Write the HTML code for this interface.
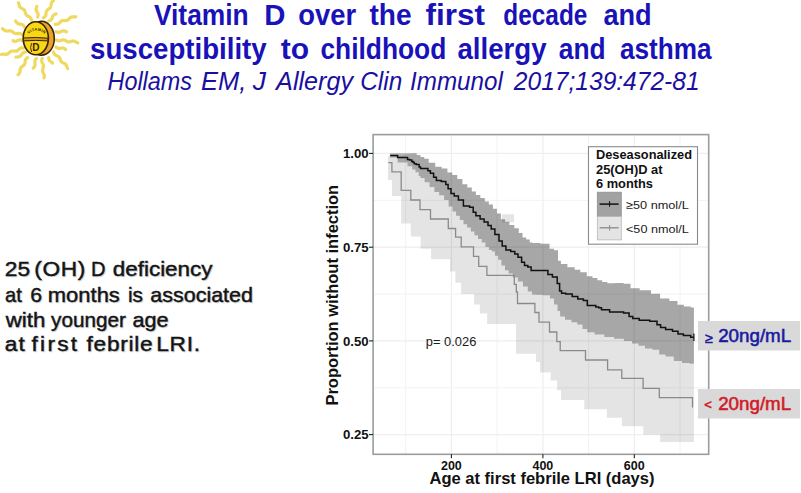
<!DOCTYPE html>
<html><head><meta charset="utf-8">
<style>
html,body{margin:0;padding:0;background:#fff;}
body{width:801px;height:493px;overflow:hidden;position:relative;}
svg{position:absolute;left:0;top:0;}
text{font-family:"Liberation Sans",sans-serif;}
</style></head><body>
<svg width="801" height="493" viewBox="0 0 801 493">
<!-- SUN -->
<g id="sun">
<g fill="none" stroke="#efd95e" stroke-width="3.2" stroke-linecap="round" stroke-linejoin="round">
<polyline points="31.6,20.3 31.2,18.9 30.5,17.7 29.3,16.8 28.0,16.2 26.7,15.4 25.9,14.3 25.4,12.9 25.0,11.5 24.4,10.2 23.4,9.3 22.1,8.6 20.8,7.9 19.8,6.9 19.3,5.6 18.9,4.1 18.4,2.8"/>
<polyline points="37.6,17.0 37.8,16.3 38.0,15.6 38.1,15.0 38.1,14.3 37.9,13.7 37.6,13.0 37.3,12.4 36.9,11.8 36.6,11.1 36.3,10.5 36.1,9.9 36.1,9.2 36.1,8.5 36.3,7.8 36.5,7.2 36.8,6.5"/>
<polyline points="43.5,17.8 44.6,17.0 45.4,16.1 45.8,14.9 46.0,13.6 46.2,12.2 46.6,11.0 47.4,10.1 48.4,9.3 49.5,8.5 50.4,7.6 50.9,6.4 51.1,5.1 51.2,3.8 51.6,2.5 52.3,1.6 53.4,0.7"/>
<polyline points="48.7,21.1 49.4,20.9 50.0,20.6 50.6,20.2 51.1,19.8 51.5,19.3 51.8,18.7 52.1,18.1 52.3,17.4 52.5,16.7 52.8,16.1 53.2,15.6 53.7,15.1 54.2,14.7 54.8,14.4 55.4,14.1 56.1,13.9"/>
<polyline points="55.2,24.3 56.7,24.3 58.0,24.0 59.2,23.2 60.2,22.1 61.3,21.1 62.6,20.6 64.0,20.6 65.5,20.6 66.9,20.4 68.1,19.8 69.2,18.7 70.2,17.7 71.4,17.0 72.8,16.8 74.3,16.9 75.8,16.8"/>
<polyline points="56.0,31.6 56.7,31.9 57.3,32.2 58.0,32.3 58.6,32.3 59.3,32.3 59.9,32.1 60.6,31.8 61.2,31.5 61.9,31.2 62.6,31.0 63.2,30.9 63.9,30.9 64.5,31.0 65.2,31.2 65.8,31.5 66.5,31.8"/>
<polyline points="56.0,39.8 57.3,40.5 58.7,40.8 60.1,40.6 61.5,40.2 62.9,39.9 64.3,40.0 65.6,40.7 66.9,41.4 68.2,41.9 69.6,41.8 71.1,41.4 72.5,41.0 73.9,41.0 75.2,41.6 76.5,42.3 77.8,42.9"/>
<polyline points="56.0,47.0 56.5,47.4 57.1,47.8 57.6,48.1 58.2,48.4 58.9,48.5 59.5,48.4 60.2,48.4 60.9,48.2 61.5,48.1 62.2,48.0 62.8,48.0 63.5,48.1 64.1,48.4 64.6,48.7 65.2,49.1 65.7,49.5"/>
<polyline points="53.5,52.0 54.0,53.4 54.8,54.5 56.0,55.3 57.3,55.9 58.6,56.6 59.5,57.6 60.1,59.0 60.5,60.4 61.2,61.6 62.3,62.5 63.6,63.1 65.0,63.8 66.0,64.7 66.6,65.9 67.1,67.3 67.7,68.7"/>
<polyline points="48.7,57.6 48.7,58.1 48.8,58.5 48.9,58.9 49.0,59.3 49.1,59.7 49.3,60.1 49.5,60.5 49.8,60.8 50.1,61.1 50.4,61.4 50.8,61.6 51.2,61.9 51.5,62.1 51.9,62.4 52.2,62.7 52.5,63.0"/>
<polyline points="42.2,58.4 41.8,59.7 41.7,60.9 41.9,62.1 42.5,63.3 43.2,64.5 43.5,65.7 43.5,66.9 43.1,68.1 42.7,69.4 42.5,70.6 42.7,71.9 43.2,73.0 43.9,74.2 44.3,75.4 44.3,76.6 44.0,77.9"/>
<polyline points="36.5,58.4 36.0,58.9 35.6,59.5 35.2,60.0 35.0,60.6 34.9,61.3 34.8,61.9 34.9,62.6 35.0,63.3 35.0,64.0 35.1,64.7 35.0,65.4 34.8,66.0 34.5,66.6 34.1,67.1 33.6,67.6 33.2,68.2"/>
<polyline points="27.6,57.6 26.5,58.4 25.7,59.4 25.3,60.5 25.1,61.8 25.0,63.2 24.6,64.3 23.8,65.3 22.8,66.1 21.7,66.9 20.8,67.9 20.3,69.0 20.1,70.3 20.0,71.6 19.7,72.8 19.0,73.9 18.0,74.7"/>
<polyline points="26.0,52.0 25.2,52.1 24.5,52.2 23.8,52.4 23.2,52.8 22.6,53.2 22.2,53.8 21.7,54.4 21.2,55.1 20.8,55.6 20.2,56.1 19.6,56.5 19.0,56.7 18.2,56.9 17.5,57.0 16.7,57.0 15.9,57.1"/>
<polyline points="23.5,47.9 21.9,47.8 20.5,48.1 19.3,49.0 18.1,50.1 16.9,50.9 15.5,51.2 13.9,51.0 12.4,51.0 11.0,51.3 9.7,52.2 8.6,53.3 7.3,54.1 5.9,54.3 4.3,54.2 2.8,54.1 1.4,54.5"/>
<polyline points="22.7,40.6 22.1,40.3 21.5,40.1 20.9,39.9 20.3,39.9 19.7,39.9 19.1,40.0 18.5,40.3 17.9,40.5 17.2,40.8 16.6,41.1 16.0,41.3 15.4,41.3 14.8,41.3 14.2,41.2 13.6,41.0 13.0,40.7"/>
<polyline points="22.7,34.9 21.6,34.0 20.4,33.5 19.0,33.4 17.6,33.6 16.2,33.7 14.9,33.5 13.7,32.7 12.6,31.8 11.5,31.0 10.2,30.7 8.8,30.8 7.4,31.0 6.0,31.0 4.8,30.5 3.6,29.7 2.5,28.7"/>
<polyline points="24.3,26.8 23.9,26.2 23.5,25.6 23.0,25.1 22.5,24.7 21.9,24.5 21.2,24.3 20.5,24.2 19.8,24.1 19.1,23.9 18.4,23.8 17.8,23.5 17.2,23.1 16.8,22.7 16.3,22.1 15.9,21.5 15.5,20.9"/>
</g>
<path d="M41,21.3 C48.5,21 54.3,29 54.3,38.5 C54.3,48 48.5,55.6 40.5,55.2 C34,54.8 30,47 30,38 C30,29 34,21.6 41,21.3 Z" fill="#eaa22e" stroke="#3a2400" stroke-width="1.5"/>
<ellipse cx="35.8" cy="38.3" rx="12.6" ry="16.5" fill="#f7d814" stroke="#3a2400" stroke-width="1.6"/>
<path d="M23.4,38.0 Q35.5,36.9 47.8,38.2 L47.8,40.9 Q35.5,39.9 23.4,40.9 Z" fill="#d89a28" stroke="#3a2400" stroke-width="1.0"/>
<path id="arcv" d="M27.2,36.3 A10.6,10.6 0 0 1 46,36.3" fill="none"/>
<text font-size="3.9" font-weight="bold" fill="#3a2400" text-anchor="middle" letter-spacing="0.25"><textPath href="#arcv" startOffset="50%">VITAMIN</textPath></text>
<text x="32.3" y="50.6" font-size="10" font-weight="bold" fill="#3a2400">D</text>
<path d="M31.6,43.2 Q29.6,47.5 31.6,52" fill="none" stroke="#3a2400" stroke-width="0.9"/>
</g><!--/sun-->

<!-- TITLE -->
<g fill="#1912b8" font-size="28.6" font-weight="bold">
<text x="153.90" y="24.9" textLength="94.85" lengthAdjust="spacingAndGlyphs">Vitamin</text>
<text x="264.17" y="24.9" textLength="21.19" lengthAdjust="spacingAndGlyphs">D</text>
<text x="298.34" y="24.9" textLength="57.88" lengthAdjust="spacingAndGlyphs">over</text>
<text x="369.40" y="24.9" textLength="42.09" lengthAdjust="spacingAndGlyphs">the</text>
<text x="425.50" y="24.9" textLength="59.47" lengthAdjust="spacingAndGlyphs">first</text>
<text x="503.35" y="24.9" textLength="84.02" lengthAdjust="spacingAndGlyphs">decade</text>
<text x="603.40" y="24.9" textLength="48.29" lengthAdjust="spacingAndGlyphs">and</text>
<text x="90.03" y="58.7" textLength="176.67" lengthAdjust="spacingAndGlyphs">susceptibility</text>
<text x="280.80" y="58.7" textLength="28.39" lengthAdjust="spacingAndGlyphs">to</text>
<text x="320.38" y="58.7" textLength="125.97" lengthAdjust="spacingAndGlyphs">childhood</text>
<text x="457.50" y="58.7" textLength="89.01" lengthAdjust="spacingAndGlyphs">allergy</text>
<text x="558.80" y="58.7" textLength="46.85" lengthAdjust="spacingAndGlyphs">and</text>
<text x="620.00" y="58.7" textLength="91.60" lengthAdjust="spacingAndGlyphs">asthma</text>
</g>
<g fill="#1a0fa0" font-size="26.5" font-style="italic">
<text x="107.50" y="89.7" textLength="84.52" lengthAdjust="spacingAndGlyphs">Hollams</text>
<text x="201.10" y="89.7" textLength="45.38" lengthAdjust="spacingAndGlyphs">EM,</text>
<text x="252.70" y="89.7" textLength="13.25" lengthAdjust="spacingAndGlyphs">J</text>
<text x="276.10" y="89.7" textLength="76.94" lengthAdjust="spacingAndGlyphs">Allergy</text>
<text x="360.28" y="89.7" textLength="42.00" lengthAdjust="spacingAndGlyphs">Clin</text>
<text x="410.09" y="89.7" textLength="92.80" lengthAdjust="spacingAndGlyphs">Immunol</text>
<text x="513.83" y="89.7" textLength="185.78" lengthAdjust="spacingAndGlyphs">2017;139:472-81</text>
</g>

<!-- LEFT TEXT -->
<g fill="#bdbdbd" stroke="#bdbdbd" stroke-width="0.4" font-size="21" transform="translate(1,1)" opacity="0.6">
<text transform="translate(4.82,276) scale(1.08,1)" letter-spacing="0.173">25</text>
<text transform="translate(34.32,276) scale(1.08,1)" letter-spacing="0.595">(OH)</text>
<text x="90.94" y="276" textLength="14.52" lengthAdjust="spacingAndGlyphs">D</text>
<text x="112.80" y="276" textLength="99.67" lengthAdjust="spacingAndGlyphs">deficiency</text>
<text x="5.00" y="301.8" textLength="16.74" lengthAdjust="spacingAndGlyphs">at</text>
<text x="30.19" y="301.8" textLength="11.80" lengthAdjust="spacingAndGlyphs">6</text>
<text x="47.85" y="301.8" textLength="71.97" lengthAdjust="spacingAndGlyphs">months</text>
<text x="127.91" y="301.8" textLength="14.98" lengthAdjust="spacingAndGlyphs">is</text>
<text x="150.30" y="301.8" textLength="102.69" lengthAdjust="spacingAndGlyphs">associated</text>
<text x="5.76" y="326.6" textLength="39.56" lengthAdjust="spacingAndGlyphs">with</text>
<text x="51.10" y="326.6" textLength="74.79" lengthAdjust="spacingAndGlyphs">younger</text>
<text x="132.40" y="326.6" textLength="36.10" lengthAdjust="spacingAndGlyphs">age</text>
<text transform="translate(4.70,351.2) scale(1.08,1)" letter-spacing="1.025">at</text>
<text transform="translate(31.50,351.2) scale(1.08,1)" letter-spacing="2.104">first</text>
<text transform="translate(86.50,351.2) scale(1.08,1)" letter-spacing="0.689">febrile</text>
<text transform="translate(156.22,351.2) scale(1.08,1)" letter-spacing="0.669">LRI.</text>
</g>
<g fill="#141414" stroke="#141414" stroke-width="0.45" font-size="21">
<text transform="translate(4.82,276) scale(1.08,1)" letter-spacing="0.173">25</text>
<text transform="translate(34.32,276) scale(1.08,1)" letter-spacing="0.595">(OH)</text>
<text x="90.94" y="276" textLength="14.52" lengthAdjust="spacingAndGlyphs">D</text>
<text x="112.80" y="276" textLength="99.67" lengthAdjust="spacingAndGlyphs">deficiency</text>
<text x="5.00" y="301.8" textLength="16.74" lengthAdjust="spacingAndGlyphs">at</text>
<text x="30.19" y="301.8" textLength="11.80" lengthAdjust="spacingAndGlyphs">6</text>
<text x="47.85" y="301.8" textLength="71.97" lengthAdjust="spacingAndGlyphs">months</text>
<text x="127.91" y="301.8" textLength="14.98" lengthAdjust="spacingAndGlyphs">is</text>
<text x="150.30" y="301.8" textLength="102.69" lengthAdjust="spacingAndGlyphs">associated</text>
<text x="5.76" y="326.6" textLength="39.56" lengthAdjust="spacingAndGlyphs">with</text>
<text x="51.10" y="326.6" textLength="74.79" lengthAdjust="spacingAndGlyphs">younger</text>
<text x="132.40" y="326.6" textLength="36.10" lengthAdjust="spacingAndGlyphs">age</text>
<text transform="translate(4.70,351.2) scale(1.08,1)" letter-spacing="1.025">at</text>
<text transform="translate(31.50,351.2) scale(1.08,1)" letter-spacing="2.104">first</text>
<text transform="translate(86.50,351.2) scale(1.08,1)" letter-spacing="0.689">febrile</text>
<text transform="translate(156.22,351.2) scale(1.08,1)" letter-spacing="0.669">LRI.</text>
</g>

<!-- CHART -->
<g id="chart">
<rect x="373.1" y="134.6" width="335.6" height="319.70000000000005" fill="#fff"/>
<line x1="405.7" y1="134.6" x2="405.7" y2="454.3" stroke="#f2f2f2" stroke-width="1"/>
<line x1="497.1" y1="134.6" x2="497.1" y2="454.3" stroke="#f2f2f2" stroke-width="1"/>
<line x1="588.6" y1="134.6" x2="588.6" y2="454.3" stroke="#f2f2f2" stroke-width="1"/>
<line x1="680.0" y1="134.6" x2="680.0" y2="454.3" stroke="#f2f2f2" stroke-width="1"/>
<line x1="451.4" y1="134.6" x2="451.4" y2="454.3" stroke="#eeeeee" stroke-width="1.2"/>
<line x1="542.9" y1="134.6" x2="542.9" y2="454.3" stroke="#eeeeee" stroke-width="1.2"/>
<line x1="634.3" y1="134.6" x2="634.3" y2="454.3" stroke="#eeeeee" stroke-width="1.2"/>
<line x1="373.1" y1="387.8" x2="708.7" y2="387.8" stroke="#f2f2f2" stroke-width="1"/>
<line x1="373.1" y1="294.0" x2="708.7" y2="294.0" stroke="#f2f2f2" stroke-width="1"/>
<line x1="373.1" y1="200.3" x2="708.7" y2="200.3" stroke="#f2f2f2" stroke-width="1"/>
<line x1="373.1" y1="434.6" x2="708.7" y2="434.6" stroke="#eeeeee" stroke-width="1.2"/>
<line x1="373.1" y1="340.9" x2="708.7" y2="340.9" stroke="#eeeeee" stroke-width="1.2"/>
<line x1="373.1" y1="247.2" x2="708.7" y2="247.2" stroke="#eeeeee" stroke-width="1.2"/>
<line x1="373.1" y1="153.4" x2="708.7" y2="153.4" stroke="#eeeeee" stroke-width="1.2"/>
<polygon points="388.0,156.5 388.0,180.0 392.0,180.0 392.0,196.0 401.1,196.0 401.1,223.5 410.8,223.5 410.8,236.5 420.6,236.5 420.6,248.7 431.1,248.7 431.1,259.2 450.0,259.2 450.0,271.4 455.4,271.4 455.4,282.7 461.1,282.7 461.1,294.1 474.1,294.1 474.1,304.6 479.8,304.6 479.8,313.5 487.1,313.5 487.1,324.1 516.0,324.1 516.0,353.8 536.0,353.8 536.0,361.9 540.0,361.9 540.0,372.5 550.6,372.5 550.6,380.6 557.1,380.6 557.1,390.3 561.0,390.3 561.0,400.0 584.3,400.0 584.3,409.3 606.8,409.3 606.8,417.8 621.8,417.8 621.8,426.2 643.3,426.2 643.3,434.6 660.2,434.6 660.2,442.1 693.9,442.1 693.9,307.5 690.7,307.5 690.7,306.6 687.5,306.6 683.9,306.6 683.9,304.8 680.2,304.8 677.5,304.8 677.5,301.1 674.8,301.1 669.3,301.1 669.3,298.4 663.8,298.4 660.1,298.4 660.1,293.8 656.5,293.8 651.0,293.8 651.0,290.2 645.6,290.2 639.7,290.2 639.7,288.3 633.7,288.3 630.5,288.3 630.5,283.8 627.3,283.8 623.6,283.8 623.6,283.0 620.0,283.0 615.0,283.0 615.0,283.3 610.0,283.3 607.3,283.3 607.3,281.9 604.6,281.9 602.2,281.9 602.2,280.3 599.8,280.3 597.3,280.3 597.3,277.9 594.9,277.9 592.5,277.9 592.5,276.2 590.0,276.2 586.8,276.2 586.8,272.2 583.5,272.2 580.3,272.2 580.3,269.8 577.1,269.8 574.7,269.8 574.7,267.3 572.2,267.3 567.4,267.3 567.4,264.1 562.5,264.1 560.9,264.1 560.9,260.8 559.2,260.8 558.0,260.8 558.0,250.3 556.8,250.3 554.0,250.3 554.0,248.7 551.1,248.7 549.5,248.7 549.5,243.8 547.8,243.8 540.5,243.8 540.5,243.0 533.2,243.0 532.3,243.0 532.3,242.5 531.4,242.5 529.8,242.5 529.8,239.5 528.2,239.5 526.2,239.5 526.2,237.5 524.1,237.5 522.5,237.5 522.5,233.0 520.9,233.0 518.8,233.0 518.8,228.2 516.8,228.2 514.3,228.2 514.3,224.9 511.9,224.9 509.4,224.9 509.4,221.7 507.0,221.7 505.0,221.7 505.0,219.2 503.0,219.2 500.9,219.2 500.9,213.6 498.9,213.6 496.9,213.6 496.9,208.7 494.9,208.7 492.9,208.7 492.9,204.6 490.8,204.6 488.8,204.6 488.8,201.4 486.8,201.4 484.8,201.4 484.8,198.1 482.7,198.1 480.3,198.1 480.3,194.9 477.9,194.9 475.9,194.9 475.9,191.6 473.8,191.6 471.8,191.6 471.8,187.6 469.7,187.6 467.3,187.6 467.3,184.3 464.9,184.3 462.4,184.3 462.4,179.0 460.0,179.0 457.3,179.0 457.3,174.9 454.6,174.9 452.2,174.9 452.2,172.5 449.8,172.5 447.4,172.5 447.4,168.4 445.0,168.4 441.7,168.4 441.7,166.8 438.4,166.8 435.2,166.8 435.2,162.7 432.0,162.7 428.7,162.7 428.7,158.7 425.4,158.7 424.2,158.7 424.2,156.9 423.0,156.9 420.4,156.9 420.4,154.9 417.9,154.9 416.7,154.9 416.7,153.3 415.5,153.3" fill="#000" fill-opacity="0.105"/>
<rect x="501.9" y="214.3" width="12.2" height="8" fill="#000" fill-opacity="0.105"/>
<polygon points="389.9,153.3 415.5,153.3 416.7,153.3 416.7,154.9 417.9,154.9 420.4,154.9 420.4,156.9 423.0,156.9 424.2,156.9 424.2,158.7 425.4,158.7 428.7,158.7 428.7,162.7 432.0,162.7 435.2,162.7 435.2,166.8 438.4,166.8 441.7,166.8 441.7,168.4 445.0,168.4 447.4,168.4 447.4,172.5 449.8,172.5 452.2,172.5 452.2,174.9 454.6,174.9 457.3,174.9 457.3,179.0 460.0,179.0 462.4,179.0 462.4,184.3 464.9,184.3 467.3,184.3 467.3,187.6 469.7,187.6 471.8,187.6 471.8,191.6 473.8,191.6 475.9,191.6 475.9,194.9 477.9,194.9 480.3,194.9 480.3,198.1 482.7,198.1 484.8,198.1 484.8,201.4 486.8,201.4 488.8,201.4 488.8,204.6 490.8,204.6 492.9,204.6 492.9,208.7 494.9,208.7 496.9,208.7 496.9,213.6 498.9,213.6 500.9,213.6 500.9,219.2 503.0,219.2 505.0,219.2 505.0,221.7 507.0,221.7 509.4,221.7 509.4,224.9 511.9,224.9 514.3,224.9 514.3,228.2 516.8,228.2 518.8,228.2 518.8,233.0 520.9,233.0 522.5,233.0 522.5,237.5 524.1,237.5 526.2,237.5 526.2,239.5 528.2,239.5 529.8,239.5 529.8,242.5 531.4,242.5 532.3,242.5 532.3,243.0 533.2,243.0 540.5,243.0 540.5,243.8 547.8,243.8 549.5,243.8 549.5,248.7 551.1,248.7 554.0,248.7 554.0,250.3 556.8,250.3 558.0,250.3 558.0,260.8 559.2,260.8 560.9,260.8 560.9,264.1 562.5,264.1 567.4,264.1 567.4,267.3 572.2,267.3 574.7,267.3 574.7,269.8 577.1,269.8 580.3,269.8 580.3,272.2 583.5,272.2 586.8,272.2 586.8,276.2 590.0,276.2 592.5,276.2 592.5,277.9 594.9,277.9 597.3,277.9 597.3,280.3 599.8,280.3 602.2,280.3 602.2,281.9 604.6,281.9 607.3,281.9 607.3,283.3 610.0,283.3 615.0,283.3 615.0,283.0 620.0,283.0 623.6,283.0 623.6,283.8 627.3,283.8 630.5,283.8 630.5,288.3 633.7,288.3 639.7,288.3 639.7,290.2 645.6,290.2 651.0,290.2 651.0,293.8 656.5,293.8 660.1,293.8 660.1,298.4 663.8,298.4 669.3,298.4 669.3,301.1 674.8,301.1 677.5,301.1 677.5,304.8 680.2,304.8 683.9,304.8 683.9,306.6 687.5,306.6 690.7,306.6 690.7,307.5 693.9,307.5 693.9,363.8 689.8,363.8 689.8,362.9 685.7,362.9 682.0,362.9 682.0,361.0 678.4,361.0 673.8,361.0 673.8,356.5 669.3,356.5 665.6,356.5 665.6,354.6 662.0,354.6 659.2,354.6 659.2,349.8 656.5,349.8 652.4,349.8 652.4,348.4 648.2,348.4 645.0,348.4 645.0,345.7 641.8,345.7 638.5,345.7 638.5,343.6 635.2,343.6 632.0,343.6 632.0,341.1 628.7,341.1 623.9,341.1 623.9,338.7 619.0,338.7 614.1,338.7 614.1,337.1 609.2,337.1 604.4,337.1 604.4,334.6 599.5,334.6 594.6,334.6 594.6,332.2 589.7,332.2 587.3,332.2 587.3,329.0 584.9,329.0 582.5,329.0 582.5,324.5 580.0,324.5 577.3,324.5 577.3,322.2 574.6,322.2 571.4,322.2 571.4,319.8 568.2,319.8 565.0,319.8 565.0,316.5 561.7,316.5 560.1,316.5 560.1,311.0 558.5,311.0 557.5,311.0 557.5,304.5 556.5,304.5 554.0,304.5 554.0,298.5 551.5,298.5 550.0,298.5 550.0,295.2 548.5,295.2 542.5,295.2 542.5,294.8 536.5,294.8 535.2,294.8 535.2,294.5 534.0,294.5 532.0,294.5 532.0,291.5 530.0,291.5 527.8,291.5 527.8,286.5 525.5,286.5 523.0,286.5 523.0,281.5 520.5,281.5 517.9,281.5 517.9,277.6 515.2,277.6 512.8,277.6 512.8,273.6 510.3,273.6 508.6,273.6 508.6,270.3 507.0,270.3 505.0,270.3 505.0,265.4 503.0,265.4 501.4,265.4 501.4,259.8 499.8,259.8 498.1,259.8 498.1,255.7 496.5,255.7 494.9,255.7 494.9,251.5 493.3,251.5 491.9,251.5 491.9,250.0 490.5,250.0 488.9,250.0 488.9,246.9 487.2,246.9 485.4,246.9 485.4,242.6 483.5,242.6 481.7,242.6 481.7,238.9 479.9,238.9 478.0,238.9 478.0,235.3 476.2,235.3 474.4,235.3 474.4,231.6 472.6,231.6 470.8,231.6 470.8,227.4 468.9,227.4 467.1,227.4 467.1,224.3 465.3,224.3 463.5,224.3 463.5,220.1 461.6,220.1 459.8,220.1 459.8,215.8 458.0,215.8 456.1,215.8 456.1,211.5 454.3,211.5 452.5,211.5 452.5,206.5 450.7,206.5 448.6,206.5 448.6,200.0 446.5,200.0 444.1,200.0 444.1,195.2 441.7,195.2 439.2,195.2 439.2,192.0 436.8,192.0 434.4,192.0 434.4,187.0 432.0,187.0 429.5,187.0 429.5,182.2 427.0,182.2 424.6,182.2 424.6,178.0 422.2,178.0 420.4,178.0 420.4,176.0 418.7,176.0 418.7,172.3 415.5,172.3 415.5,169.5 412.2,169.5 412.2,166.3 407.5,166.3 407.5,162.6 397.6,162.6 397.6,157.5 389.9,157.5" fill="#000" fill-opacity="0.268"/>
<polyline points="388.3,162.6 391.9,162.6 391.9,171.8 401.2,171.8 401.2,190.3 410.8,190.3 410.8,200.0 420.0,200.0 420.0,209.7 430.5,209.7 430.5,219.0 448.3,219.0 448.3,228.5 455.6,228.5 455.6,237.1 461.2,237.1 461.2,246.9 473.5,246.9 473.5,256.3 478.7,256.3 478.7,266.3 486.9,266.3 486.9,275.3 514.3,275.3 514.3,284.3 516.3,284.3 516.3,292.0 517.5,292.0 517.5,303.5 534.9,303.5 534.9,312.5 539.0,312.5 539.0,322.2 549.5,322.2 549.5,332.0 556.8,332.0 556.8,341.7 560.2,341.7 560.2,350.6 585.5,350.6 585.5,360.0 607.6,360.0 607.6,369.8 621.8,369.8 621.8,378.4 643.1,378.4 643.1,388.4 659.3,388.4 659.3,397.6 692.5,397.6 692.5,407.5" fill="none" stroke="#8a8a8a" stroke-width="1.3"/>
<polyline points="390.1,155.5 397.6,155.5 397.6,157.6 407.3,157.6 407.5,157.6 407.5,159.4 407.7,159.4 409.5,159.4 409.5,160.0 411.4,160.0 411.8,160.0 411.8,161.4 412.2,161.4 413.0,161.4 413.0,162.2 413.8,162.2 414.2,162.2 414.2,163.8 414.6,163.8 416.2,163.8 416.2,164.6 417.9,164.6 419.1,164.6 419.1,167.0 420.3,167.0 420.5,167.0 420.5,168.4 420.6,168.4 427.0,168.4 427.9,168.4 427.9,170.8 428.7,170.8 430.4,170.8 430.4,173.3 432.0,173.3 433.6,173.3 433.6,177.3 435.2,177.3 436.4,177.3 436.4,180.6 437.6,180.6 441.3,180.6 441.3,181.4 445.0,181.4 445.8,181.4 445.8,184.6 446.5,184.6 448.1,184.6 448.1,188.7 449.8,188.7 451.0,188.7 451.0,193.5 452.2,193.5 454.2,193.5 454.2,196.0 456.3,196.0 458.4,196.0 458.4,200.0 460.4,200.0 463.4,200.0 463.4,206.1 466.5,206.1 469.6,206.1 469.6,207.3 472.6,207.3 473.2,207.3 473.2,212.2 473.8,212.2 475.9,212.2 475.9,215.8 478.0,215.8 480.1,215.8 480.1,218.9 482.3,218.9 484.1,218.9 484.1,221.9 486.0,221.9 488.0,221.9 488.0,225.6 490.0,225.6 491.2,225.6 491.2,228.9 492.5,228.9 494.9,228.9 494.9,234.6 497.3,234.6 499.0,234.6 499.0,241.1 500.6,241.1 502.2,241.1 502.2,246.0 503.8,246.0 505.9,246.0 505.9,250.0 507.9,250.0 510.7,250.0 510.7,251.6 513.5,251.6 514.8,251.6 514.8,254.0 516.0,254.0 518.0,254.0 518.0,257.3 520.0,257.3 521.6,257.3 521.6,262.2 523.3,262.2 524.5,262.2 524.5,265.4 525.7,265.4 527.8,265.4 527.8,267.1 529.8,267.1 531.1,267.1 531.1,270.6 532.4,270.6 547.0,270.6 547.9,270.6 547.9,274.6 548.7,274.6 552.4,274.6 552.4,277.1 556.0,277.1 557.2,277.1 557.2,283.5 558.4,283.5 559.6,283.5 559.6,290.9 560.8,290.9 561.6,290.9 561.6,293.3 562.5,293.3 565.8,293.3 565.8,294.1 569.0,294.1 572.2,294.1 572.2,296.5 575.4,296.5 577.8,296.5 577.8,299.0 580.3,299.0 583.4,299.0 583.4,300.5 586.5,300.5 587.3,300.5 587.3,305.4 588.1,305.4 595.4,305.4 595.8,305.4 595.8,307.0 596.2,307.0 598.7,307.0 598.7,307.8 601.1,307.8 601.5,307.8 601.5,309.8 601.9,309.8 609.2,309.8 609.6,309.8 609.6,311.9 610.0,311.9 620.0,312.1 623.6,312.1 623.6,313.0 627.3,313.0 629.1,313.0 629.1,316.6 631.0,316.6 632.8,316.6 632.8,318.5 634.6,318.5 639.2,318.5 639.2,320.3 643.7,320.3 649.7,320.3 649.7,321.2 655.6,321.2 657.0,321.2 657.0,324.8 658.3,324.8 660.6,324.8 660.6,327.6 662.9,327.6 665.6,327.6 665.6,329.4 668.4,329.4 672.5,329.4 672.5,331.2 676.6,331.2 678.0,331.2 678.0,334.0 679.3,334.0 683.4,334.0 683.4,335.4 687.5,335.4 690.7,335.4 690.7,337.3 693.9,337.3" fill="none" stroke="#111" stroke-width="1.5"/>
<line x1="693.9" y1="333.5" x2="693.9" y2="341" stroke="#111" stroke-width="1.2"/>
<rect x="373.1" y="134.6" width="335.6" height="319.70000000000005" fill="none" stroke="#9c9c9c" stroke-width="1.6"/>
<line x1="369" y1="153.4" x2="373.1" y2="153.4" stroke="#222" stroke-width="1.1"/>
<text x="368.7" y="158.0" font-size="13.2" font-weight="bold" text-anchor="end" fill="#111">1.00</text>
<line x1="369" y1="247.2" x2="373.1" y2="247.2" stroke="#222" stroke-width="1.1"/>
<text x="368.7" y="251.8" font-size="13.2" font-weight="bold" text-anchor="end" fill="#111">0.75</text>
<line x1="369" y1="340.9" x2="373.1" y2="340.9" stroke="#222" stroke-width="1.1"/>
<text x="368.7" y="345.5" font-size="13.2" font-weight="bold" text-anchor="end" fill="#111">0.50</text>
<line x1="369" y1="434.6" x2="373.1" y2="434.6" stroke="#222" stroke-width="1.1"/>
<text x="368.7" y="439.2" font-size="13.2" font-weight="bold" text-anchor="end" fill="#111">0.25</text>
<line x1="451.4" y1="454.3" x2="451.4" y2="458.3" stroke="#222" stroke-width="1.1"/>
<text x="451.4" y="469.5" font-size="12.5" font-weight="bold" text-anchor="middle" fill="#111">200</text>
<line x1="542.9" y1="454.3" x2="542.9" y2="458.3" stroke="#222" stroke-width="1.1"/>
<text x="542.9" y="469.5" font-size="12.5" font-weight="bold" text-anchor="middle" fill="#111">400</text>
<line x1="634.3" y1="454.3" x2="634.3" y2="458.3" stroke="#222" stroke-width="1.1"/>
<text x="634.3" y="469.5" font-size="12.5" font-weight="bold" text-anchor="middle" fill="#111">600</text>
<text x="429.5" y="483.8" font-size="16.4" font-weight="bold" fill="#111" textLength="225" lengthAdjust="spacingAndGlyphs">Age at first febrile LRI (days)</text>
<text transform="translate(337.8,405.6) rotate(-90)" x="0" y="0" font-size="16" font-weight="bold" fill="#111" textLength="220.8" lengthAdjust="spacingAndGlyphs">Proportion without infection</text>
<text x="425.8" y="346.2" font-size="12.6" fill="#1a1a1a" textLength="50.5" lengthAdjust="spacingAndGlyphs">p= 0.026</text>
<rect x="588.5" y="146.7" width="109" height="97.5" fill="#fff" stroke="#8a8a8a" stroke-width="1.1"/>
<g font-size="12.5" font-weight="bold" fill="#111">
<text x="596" y="159.1" textLength="96" lengthAdjust="spacingAndGlyphs">Deseasonalized</text>
<text x="596" y="174.4" textLength="66.5" lengthAdjust="spacingAndGlyphs">25(OH)D at</text>
<text x="596" y="188.2" textLength="57" lengthAdjust="spacingAndGlyphs">6 months</text>
</g>
<rect x="597.3" y="192.2" width="24" height="24.4" fill="#a2a2a2" stroke="#8f8f8f" stroke-width="0.8"/>
<rect x="597.3" y="216.6" width="24" height="23.3" fill="#e4e4e4" stroke="#b8b8b8" stroke-width="0.8"/>
<line x1="599.6" y1="204.1" x2="618.6" y2="204.1" stroke="#111" stroke-width="1.5"/>
<line x1="609.6" y1="201" x2="609.6" y2="206.8" stroke="#111" stroke-width="1"/>
<line x1="599.6" y1="227.8" x2="618.6" y2="227.8" stroke="#8a8a8a" stroke-width="1.3"/>
<line x1="609.6" y1="225" x2="609.6" y2="230.6" stroke="#8a8a8a" stroke-width="1"/>
<g font-size="11.5" fill="#1a1a1a">
<text x="626" y="208.6" textLength="62.8" lengthAdjust="spacingAndGlyphs">≥50 nmol/L</text>
<text x="626" y="232.6" textLength="62.8" lengthAdjust="spacingAndGlyphs">&lt;50 nmol/L</text>
</g>
</g><!--/chart-->

<!-- RIGHT LABELS -->
<rect x="698" y="321" width="102" height="29.5" fill="#d9d9d9"/>
<rect x="698" y="389" width="102" height="29.5" fill="#d9d9d9"/>
<g fill="#1a1aa0" stroke="#1a1aa0" stroke-width="0.55">
<text x="705.3" y="342.5" font-size="14">≥</text>
<text x="718.2" y="342.1" font-size="18" textLength="73" lengthAdjust="spacingAndGlyphs">20ng/mL</text>
</g>
<g fill="#d21a28" stroke="#d21a28" stroke-width="0.55">
<text x="704.3" y="409.3" font-size="13">&lt;</text>
<text x="718.2" y="410.1" font-size="18" textLength="73" lengthAdjust="spacingAndGlyphs">20ng/mL</text>
</g>
</svg>
</body></html>
